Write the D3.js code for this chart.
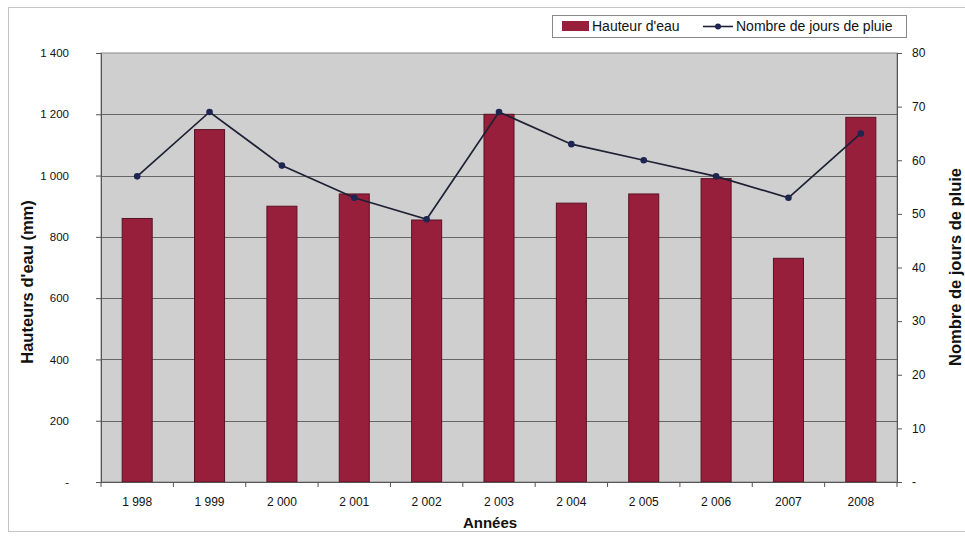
<!DOCTYPE html>
<html>
<head>
<meta charset="utf-8">
<script src="https://cdn.jsdelivr.net/npm/d3@7"></script>
<style>
  html, body { margin: 0; padding: 0; background: #fff; }
  svg { display: block; font-family: "Liberation Sans", Arial, sans-serif; }
</style>
</head>
<body>
<svg id="chart" width="965" height="536"></svg>
<script>
// Précipitations annuelles
const years = ["1998", "1999", "2000", "2001", "2002", "2003", "2004", "2005", "2006", "2007", "2008"];
const yearLabels = ["1 998", "1 999", "2 000", "2 001", "2 002", "2 003", "2 004", "2 005", "2 006", "2007", "2008"];
const hauteurEau = [860, 1150, 900, 940, 855, 1200, 910, 940, 990, 730, 1190];
const joursPluie = [57, 69, 59, 53, 49, 69, 63, 60, 57, 53, 65];
const leftTicks = [0, 200, 400, 600, 800, 1000, 1200, 1400];
const rightTicks = [0, 10, 20, 30, 40, 50, 60, 70, 80];

const svg = d3.select("#chart");
const plot = { left: 101, right: 897, top: 53, bottom: 482 };
const barColor = "#971f3b";
const textColor = "#111";

const fmt = d3.formatLocale({ decimal: ",", thousands: " ", grouping: [3], currency: ["", " €"] }).format(",");
const tickText = v => v === 0 ? "-" : fmt(v);

const x = d3.scaleBand().domain(years).range([plot.left, plot.right])
  .paddingInner(0.585).paddingOuter(0.2925);
const step = x.step();
const yL = d3.scaleLinear().domain([0, 1400]).range([plot.bottom, plot.top]);
const yR = d3.scaleLinear().domain([0, 80]).range([plot.bottom, plot.top]);

// outer frame
svg.append("line").attr("x1", 8).attr("x2", 965).attr("y1", 7.5).attr("y2", 7.5).attr("stroke", "#c4c4c4");
svg.append("line").attr("x1", 8).attr("x2", 965).attr("y1", 531.5).attr("y2", 531.5).attr("stroke", "#c4c4c4");
svg.append("line").attr("x1", 8.5).attr("x2", 8.5).attr("y1", 7).attr("y2", 532).attr("stroke", "#c4c4c4");

// plot area
svg.append("rect")
  .attr("x", plot.left).attr("y", plot.top)
  .attr("width", plot.right - plot.left).attr("height", plot.bottom - plot.top)
  .attr("fill", "#cfcfcf").attr("stroke", "#8a8a8a");

// gridlines
svg.append("g").selectAll("line")
  .data(leftTicks.filter(t => t > 0 && t < 1400))
  .join("line")
  .attr("x1", plot.left).attr("x2", plot.right)
  .attr("y1", d => Math.round(yL(d)) + 0.5).attr("y2", d => Math.round(yL(d)) + 0.5)
  .attr("stroke", "#666").attr("stroke-width", 1);

// bars
svg.append("g").selectAll("rect")
  .data(years.map((y, i) => ({ y, v: hauteurEau[i] })))
  .join("rect")
  .attr("x", d => x(d.y)).attr("width", x.bandwidth())
  .attr("y", d => yL(d.v)).attr("height", d => yL(0) - yL(d.v))
  .attr("fill", barColor).attr("stroke", "#5a1224").attr("stroke-width", 1);

// left axis
const gL = svg.append("g").attr("transform", `translate(${plot.left},0)`)
  .call(d3.axisLeft(yL).tickValues(leftTicks).tickFormat(tickText).tickSize(5).tickPadding(27));
gL.select(".domain").attr("stroke", "#555");
gL.selectAll(".tick line").attr("stroke", "#555");
gL.selectAll(".tick text").attr("font-size", 11.5).attr("fill", textColor).attr("font-family", "Liberation Sans, Arial, sans-serif");

// right axis
const gR = svg.append("g").attr("transform", `translate(${plot.right},0)`)
  .call(d3.axisRight(yR).tickValues(rightTicks).tickFormat(tickText).tickSize(5).tickPadding(10));
gR.select(".domain").attr("stroke", "#555");
gR.selectAll(".tick line").attr("stroke", "#555");
gR.selectAll(".tick text").attr("font-size", 12).attr("fill", textColor).attr("font-family", "Liberation Sans, Arial, sans-serif");

// bottom axis: baseline, category separators and labels
const gB = svg.append("g");
gB.append("line").attr("x1", plot.left).attr("x2", plot.right)
  .attr("y1", plot.bottom + 0.5).attr("y2", plot.bottom + 0.5).attr("stroke", "#555");
gB.selectAll("line.sep")
  .data(years.concat(["end"]))
  .join("line").attr("class", "sep")
  .attr("x1", (d, i) => plot.left + i * step).attr("x2", (d, i) => plot.left + i * step)
  .attr("y1", plot.bottom).attr("y2", plot.bottom + 5).attr("stroke", "#555");
gB.selectAll("text")
  .data(years)
  .join("text")
  .attr("x", d => x(d) + x.bandwidth() / 2).attr("y", 506)
  .attr("text-anchor", "middle").attr("font-size", 12).attr("fill", textColor)
  .text((d, i) => yearLabels[i]);

// rainy days line
const line = d3.line().x((d, i) => x(years[i]) + x.bandwidth() / 2).y(d => yR(d));
svg.append("path").datum(joursPluie).attr("d", line)
  .attr("fill", "none").attr("stroke", "#1e2033").attr("stroke-width", 1.7);
svg.append("g").selectAll("circle")
  .data(joursPluie).join("circle")
  .attr("cx", (d, i) => x(years[i]) + x.bandwidth() / 2).attr("cy", d => yR(d))
  .attr("r", 3.3).attr("fill", "#1d2550");

// axis titles
svg.append("text").attr("x", 490).attr("y", 528).attr("text-anchor", "middle")
  .attr("font-size", 15).attr("font-weight", "bold").attr("fill", textColor).text("Années");
svg.append("text").attr("transform", "translate(33,282) rotate(-90)").attr("text-anchor", "middle")
  .attr("font-size", 16.5).attr("font-weight", "bold").attr("fill", textColor).text("Hauteurs d'eau (mm)");
svg.append("text").attr("transform", "translate(961,267) rotate(-90)").attr("text-anchor", "middle")
  .attr("font-size", 16.5).attr("font-weight", "bold").attr("fill", textColor).text("Nombre de jours de pluie");

// legend
const lg = svg.append("g");
lg.append("rect").attr("x", 552.5).attr("y", 15.5).attr("width", 354).attr("height", 22)
  .attr("fill", "#fff").attr("stroke", "#888");
lg.append("rect").attr("x", 562).attr("y", 21).attr("width", 27).attr("height", 10).attr("fill", barColor);
lg.append("text").attr("x", 592).attr("y", 31).attr("font-size", 14).attr("fill", textColor).text("Hauteur d'eau");
lg.append("line").attr("x1", 703).attr("x2", 733).attr("y1", 26.5).attr("y2", 26.5)
  .attr("stroke", "#1e2033").attr("stroke-width", 1.6);
lg.append("circle").attr("cx", 718).attr("cy", 26.5).attr("r", 3).attr("fill", "#1d2550");
lg.append("text").attr("x", 736).attr("y", 31).attr("font-size", 14).attr("fill", textColor).text("Nombre de jours de pluie");
</script>
</body>
</html>
